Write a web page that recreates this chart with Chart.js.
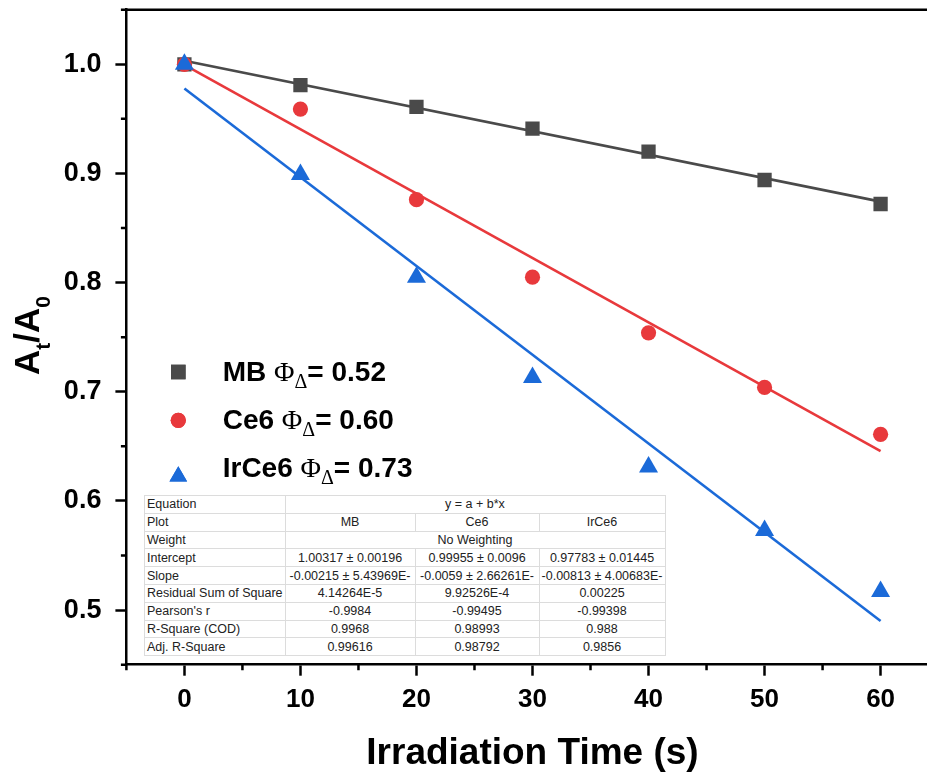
<!DOCTYPE html>
<html><head><meta charset="utf-8">
<script src="https://cdn.jsdelivr.net/npm/chart.js@4.4.1/dist/chart.umd.min.js"></script>
<style>
html,body{margin:0;padding:0;background:#fff;overflow:hidden;width:927px;height:776px;}
#wrap{position:relative;width:940px;height:776px;}
#c{position:absolute;left:0;top:0;}
#fit{position:absolute;left:144px;top:495px;border-collapse:collapse;background:#fff;font-family:"Liberation Sans",Arial,sans-serif;font-size:12.5px;color:#222;table-layout:fixed;border:1px solid #a8a8a8;}
#fit tr{height:17.8px;}
#fit td{border:1px solid #dcdcdc;padding:0 2px;white-space:nowrap;overflow:hidden;text-align:center;line-height:16px;}
#fit td.lab{text-align:left;}
</style></head>
<body><div id="wrap"><canvas id="c" width="940" height="776"></canvas><table id="fit"></table></div>
<script>
// ---- data ----
const times = [0, 10, 20, 30, 40, 50, 60];
const mbValues = [1.000, 0.981, 0.961, 0.941, 0.920, 0.894, 0.872];
const ce6Values = [1.000, 0.959, 0.876, 0.805, 0.754, 0.704, 0.661];
const irce6Values = [1.000, 0.899, 0.805, 0.713, 0.631, 0.573, 0.517];
const seriesNames = ['MB', 'Ce6', 'IrCe6'];
const quantumYields = ['0.52', '0.60', '0.73'];
const fitX = [0, 60];
const mbFit = [1.00317, 0.87417];
const ce6Fit = [0.99955, 0.64555];
const irce6Fit = [0.97783, 0.49003];
const xTickValues = [0, 10, 20, 30, 40, 50, 60];
const xMinorTicks = [-5, 5, 15, 25, 35, 45, 55, 65];
const yTickValues = [0.5, 0.6, 0.7, 0.8, 0.9, 1.0];
const yMinorTicks = [0.45, 0.55, 0.65, 0.75, 0.85, 0.95, 1.05];
const xTitle = 'Irradiation Time (s)';
const tableLabels = ['Equation', 'Plot', 'Weight', 'Intercept', 'Slope', 'Residual Sum of Square', "Pearson's r", 'R-Square (COD)', 'Adj. R-Square'];
const tableEquation = 'y = a + b*x';
const tableWeight = 'No Weighting';
const tableIntercept = ['1.00317 ± 0.00196', '0.99955 ± 0.0096', '0.97783 ± 0.01445'];
const tableSlope = ['-0.00215 ± 5.43969E-', '-0.0059 ± 2.66261E-', '-0.00813 ± 4.00683E-'];
const tableRSS = ['4.14264E-5', '9.92526E-4', '0.00225'];
const tablePearson = ['-0.9984', '-0.99495', '-0.99398'];
const tableR2 = ['0.9968', '0.98993', '0.988'];
const tableAdjR2 = ['0.99616', '0.98792', '0.9856'];

// ---- styles ----
const colors = ['#4a4a4a', '#e8393c', '#1b6ad8'];
const styles = ['rect', 'circle', 'triangle'];
const radii = [10.1, 7.6, 11];
const FONT = '"Liberation Sans", Arial, sans-serif';
const SERIF = '"Liberation Serif", "Times New Roman", serif';

// ---- table ----
(function buildTable(){
  const t = document.getElementById('fit');
  const cg = document.createElement('colgroup');
  [140, 130, 124, 126].forEach(w => { const c = document.createElement('col'); c.style.width = w + 'px'; cg.appendChild(c); });
  t.appendChild(cg);
  const rows = [
    [tableLabels[0], [tableEquation]],
    [tableLabels[1], seriesNames],
    [tableLabels[2], [tableWeight]],
    [tableLabels[3], tableIntercept],
    [tableLabels[4], tableSlope],
    [tableLabels[5], tableRSS],
    [tableLabels[6], tablePearson],
    [tableLabels[7], tableR2],
    [tableLabels[8], tableAdjR2]
  ];
  rows.forEach(([lab, vals]) => {
    const tr = document.createElement('tr');
    const td0 = document.createElement('td'); td0.className = 'lab'; td0.textContent = lab; tr.appendChild(td0);
    vals.forEach(v => { const td = document.createElement('td'); td.textContent = v; if (vals.length === 1) td.colSpan = 3; tr.appendChild(td); });
    t.appendChild(tr);
  });
})();

const allValues = [mbValues, ce6Values, irce6Values];
const allFits = [mbFit, ce6Fit, irce6Fit];

const pointSets = [2, 1, 0].map(i => ({
  type: 'scatter', label: seriesNames[i],
  data: times.map((t, k) => ({x: t, y: allValues[i][k]})),
  backgroundColor: colors[i], borderColor: colors[i], borderWidth: 0,
  pointStyle: styles[i], pointRadius: radii[i], pointHoverRadius: radii[i], showLine: false
}));
const fitSets = [2, 1, 0].map(i => ({
  type: 'line', label: seriesNames[i] + ' fit',
  data: fitX.map((x, k) => ({x: x, y: allFits[i][k]})),
  borderColor: colors[i], backgroundColor: colors[i], borderWidth: 2.6, pointRadius: 0, fill: false, tension: 0
}));

const decor = {
  id: 'decor',
  afterDraw(chart) {
    const c = chart.ctx, a = chart.chartArea, sx = chart.scales.x, sy = chart.scales.y;
    c.save();
    c.strokeStyle = '#000'; c.lineWidth = 2.5;
    c.beginPath();
    c.moveTo(a.left - 1.25, a.top); c.lineTo(a.right, a.top);
    c.moveTo(a.right, a.top); c.lineTo(a.right, a.bottom);
    c.stroke();
    // minor ticks
    c.beginPath();
    xMinorTicks.forEach(v => { const p = sx.getPixelForValue(v); c.moveTo(p, a.bottom); c.lineTo(p, a.bottom + 5.5); });
    yMinorTicks.forEach(v => { const p = sy.getPixelForValue(v); c.moveTo(a.left, p); c.lineTo(a.left - 5.5, p); });
    c.stroke();
    // y title A_t/A_0
    const segs = [
      {t: 'A', f: 'bold 35px ' + FONT, dy: 0},
      {t: 't', f: 'bold 21px ' + FONT, dy: 11},
      {t: '/', f: 'bold 35px ' + FONT, dy: 0},
      {t: 'A', f: 'bold 35px ' + FONT, dy: 0},
      {t: '0', f: 'bold 21px ' + FONT, dy: 11}
    ];
    c.translate(38.8, 335.5);
    c.rotate(-Math.PI / 2);
    c.fillStyle = '#000'; c.textBaseline = 'alphabetic'; c.textAlign = 'left';
    let total = 0;
    segs.forEach(s => { c.font = s.f; s.w = c.measureText(s.t).width; total += s.w; });
    let u = -total / 2;
    segs.forEach(s => { c.font = s.f; c.fillText(s.t, u, s.dy); u += s.w; });
    c.restore();

    // legend
    c.save();
    const baselines = [381, 428.8, 476.8];
    const markerY = [372, 420.3, 476.4];
    const legendRadii = [10.3, 7.6, 10.2];
    for (let i = 0; i < 3; i++) {
      c.fillStyle = colors[i];
      Chart.helpers.drawPoint(c, {pointStyle: styles[i], radius: legendRadii[i], rotation: 0, borderWidth: 0}, 178.3, markerY[i]);
      c.fill();
      c.fillStyle = '#000'; c.textBaseline = 'alphabetic'; c.textAlign = 'left';
      const parts = [
        {t: seriesNames[i] + ' ', f: 'bold 28px ' + FONT, dy: 0},
        {t: 'Φ', f: '28px ' + SERIF, dy: 0},
        {t: 'Δ', f: '20px ' + SERIF, dy: 7},
        {t: '= ' + quantumYields[i], f: 'bold 28px ' + FONT, dy: 0}
      ];
      let x = 222.7;
      parts.forEach(p => { c.font = p.f; c.fillText(p.t, x, baselines[i] + p.dy); x += c.measureText(p.t).width; });
    }
    c.restore();
  }
};

new Chart(document.getElementById('c'), {
  data: {datasets: [...pointSets, ...fitSets]},
  options: {
    responsive: false, animation: false, events: [],
    layout: {autoPadding: false, padding: {top: 9.7, right: 1.4, left: 0, bottom: 0}},
    plugins: {legend: {display: false}, tooltip: {enabled: false}},
    scales: {
      x: {
        type: 'linear', min: -5, max: 65,
        afterBuildTicks: s => { s.ticks = xTickValues.map(v => ({value: v})); },
        afterFit: s => { s.height = 111.3; s.paddingLeft = 0; s.paddingRight = 0; },
        ticks: {font: {family: FONT, size: 26, weight: 'bold'}, color: '#000', padding: 9, maxRotation: 0, autoSkip: false, callback: v => String(v)},
        grid: {display: true, drawOnChartArea: false, drawTicks: true, tickLength: 11, tickWidth: 2.5, tickColor: '#000'},
        border: {display: true, color: '#000', width: 2.5},
        title: {display: true, text: xTitle, color: '#000', font: {family: FONT, size: 37, weight: 'bold', lineHeight: 1}, padding: {top: 0, bottom: 4}}
      },
      y: {
        type: 'linear', min: 0.45, max: 1.05,
        afterBuildTicks: s => { s.ticks = yTickValues.map(v => ({value: v})); },
        afterFit: s => { s.width = 126.4; s.paddingTop = 0; s.paddingBottom = 0; },
        ticks: {font: {family: FONT, size: 27, weight: 'bold'}, color: '#000', padding: 14, autoSkip: false, callback: v => Number(v).toFixed(1)},
        grid: {display: true, drawOnChartArea: false, drawTicks: true, tickLength: 11, tickWidth: 2.5, tickColor: '#000'},
        border: {display: true, color: '#000', width: 2.5},
        title: {display: false}
      }
    }
  },
  plugins: [decor]
});
</script>
</body></html>
